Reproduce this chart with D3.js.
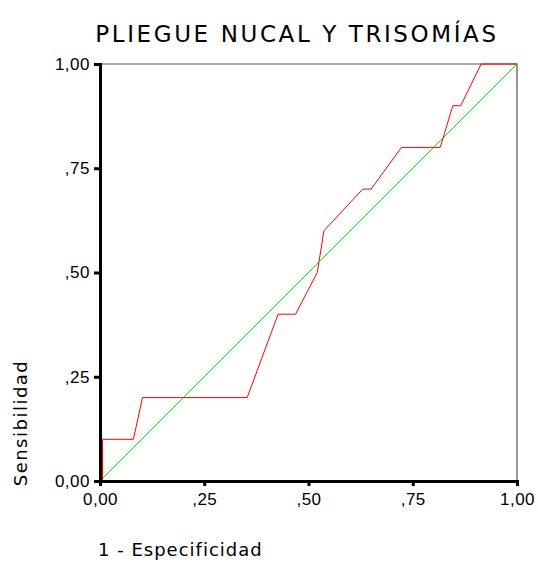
<!DOCTYPE html>
<html lang="en">
<head>
  <meta charset="UTF-8">
  <title>Pliegue nucal y trisomías</title>
  <script src="https://d3js.org/d3.v7.min.js"></script>
  <style>
    body { margin: 0; background: #fff; }
  </style>
</head>
<body>
  <div class="canvas"></div>
  <script>
    // ROC curve points (1 - especificidad, sensibilidad)
    const fpr = [0, 0.006, 0.006, 0.08, 0.102, 0.353, 0.427, 0.469, 0.521, 0.537, 0.63, 0.65, 0.723, 0.816, 0.846, 0.865, 0.914, 1];
    const tpr = [0, 0, 0.1, 0.1, 0.2, 0.2, 0.4, 0.4, 0.5, 0.6, 0.7, 0.7, 0.8, 0.8, 0.9, 0.9, 1, 1];
    const refLine = [0, 1];
    const ticks = [0, 0.25, 0.5, 0.75, 1];
    const tickLabels = ["0,00", ",25", ",50", ",75", "1,00"];

    const svgWidth = 538;
    const svgHeight = 562;
    const margin = { top: 64, left: 100 };
    const graphWidth = 417;
    const graphHeight = 417;

    const svg = d3.select(".canvas")
      .append("svg")
      .attr("width", svgWidth)
      .attr("height", svgHeight);

    const graph = svg.append("g")
      .attr("transform", `translate(${margin.left}, ${margin.top})`);

    const x = d3.scaleLinear().domain([0, 1]).range([0, graphWidth]);
    const y = d3.scaleLinear().domain([0, 1]).range([graphHeight, 0]);

    // top and right frame
    graph.append("path")
      .attr("d", `M0,${y(1)}H${x(1)}V${y(0)}`)
      .attr("fill", "none")
      .attr("stroke", "#555")
      .attr("stroke-width", 1.2);

    const line = d3.line().x(d => x(d[0])).y(d => y(d[1]));

    graph.append("path")
      .datum(refLine.map(v => [v, v]))
      .attr("fill", "none")
      .attr("stroke", "#00ee00")
      .attr("stroke-width", 1)
      .attr("d", line);

    graph.append("path")
      .datum(fpr.map((v, i) => [v, tpr[i]]))
      .attr("fill", "none")
      .attr("stroke", "#ff0000")
      .attr("stroke-width", 1)
      .attr("d", line);

    const fmt = d => tickLabels[ticks.indexOf(d)];

    const xAxis = d3.axisBottom(x).tickValues(ticks).tickFormat(fmt).tickSize(5).tickPadding(7);
    const yAxis = d3.axisLeft(y).tickValues(ticks).tickFormat(fmt).tickSize(6).tickPadding(4);

    const xAxisGroup = graph.append("g")
      .attr("transform", `translate(0, ${graphHeight})`)
      .call(xAxis);
    const yAxisGroup = graph.append("g").call(yAxis);

    [xAxisGroup, yAxisGroup].forEach(g => {
      g.select(".domain").attr("stroke", "#000").attr("stroke-width", 3);
      g.selectAll(".tick line").attr("stroke", "#000").attr("stroke-width", 3);
      g.selectAll("text")
        .attr("fill", "#000")
        .style("font-family", "'Liberation Sans', Arial, sans-serif")
        .style("font-size", "17px")
        .style("letter-spacing", "0.5px");
    });

    svg.append("text")
      .attr("x", 297)
      .attr("y", 42)
      .attr("text-anchor", "middle")
      .style("font-family", "'DejaVu Sans', sans-serif")
      .style("font-size", "23px")
      .style("letter-spacing", "2.6px")
      .text("PLIEGUE NUCAL Y TRISOMÍAS");

    svg.append("text")
      .attr("x", 98)
      .attr("y", 556)
      .style("font-family", "'DejaVu Sans', sans-serif")
      .style("font-size", "18px")
      .style("letter-spacing", "1px")
      .text("1 - Especificidad");

    svg.append("text")
      .attr("transform", "translate(27, 423) rotate(-90)")
      .attr("text-anchor", "middle")
      .style("font-family", "'DejaVu Sans', sans-serif")
      .style("font-size", "18px")
      .style("letter-spacing", "1.5px")
      .text("Sensibilidad");
  </script>
</body>
</html>
